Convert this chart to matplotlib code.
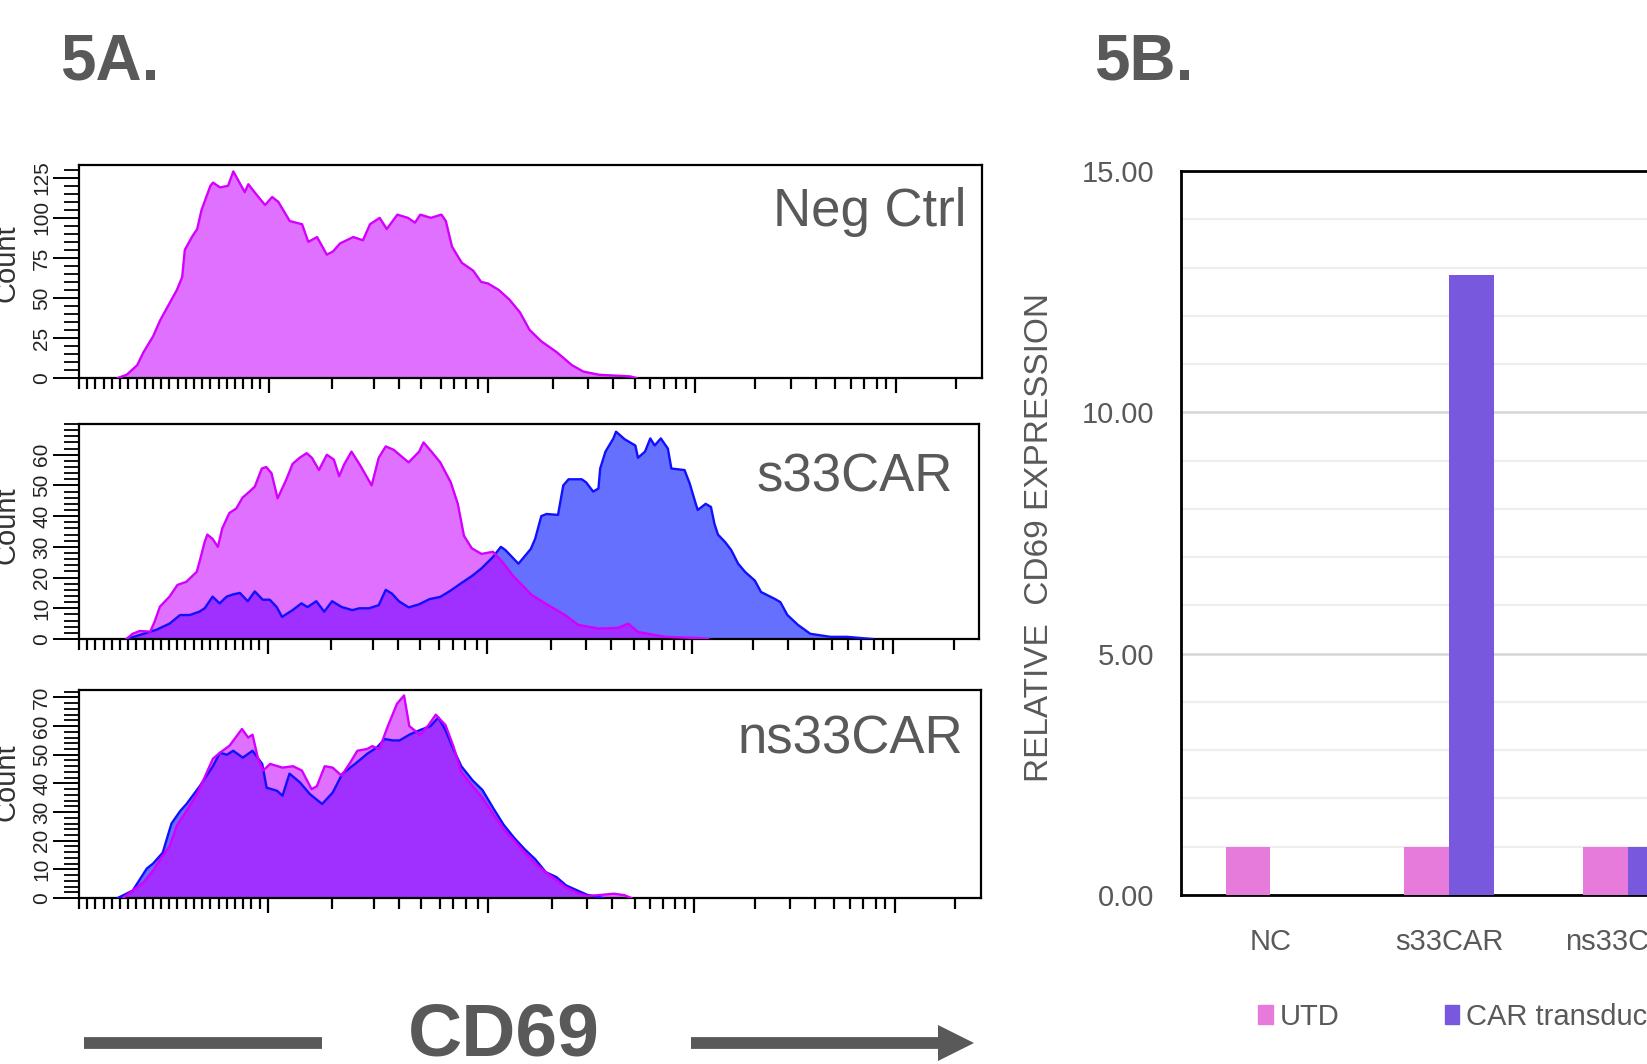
import numpy as np
import matplotlib
matplotlib.use('Agg')
import matplotlib.pyplot as plt
from matplotlib.patches import Polygon, Patch
from matplotlib.ticker import FixedLocator, MultipleLocator

W, H = 1647, 1064
SANS = ['Liberation Sans', 'DejaVu Sans']
GREY = '#595959'

# ---- 5A: CD69 histograms, (display channel, count) ----
neg_ch = [44, 54, 66, 73, 84, 92, 103, 111, 117, 120, 128, 134, 139, 149, 152, 160, 169, 175, 180, 188,
          192, 202, 211, 219, 226, 239, 253, 260, 270, 281, 288, 296, 311, 322, 330, 341, 349, 361, 373, 381,
          387, 399, 411, 416, 423, 434, 447, 456, 464, 476, 488, 500, 511, 524, 542, 559, 572, 590, 625, 632]
neg_cnt = [0, 2, 8, 16, 26, 36, 47, 55, 63, 80, 88, 93, 105, 120, 122, 119, 120, 129, 124, 116,
           121, 114, 108, 113, 110, 98, 96, 85, 88, 77, 79, 84, 88, 86, 96, 100, 93, 102, 100, 97,
           102, 100, 102, 98, 82, 72, 67, 60, 59, 55, 49, 41, 30, 23, 16, 8, 4, 2, 1, 0]

s33_utd_ch = [54, 61, 69, 81, 86, 92, 103, 112, 122, 134, 137, 143, 146, 152, 158, 163, 171, 179, 186, 194,
              200, 208, 213, 219, 226, 236, 243, 251, 259, 265, 273, 282, 290, 296, 302, 310, 319, 327, 333, 341,
              349, 358, 375, 387, 392, 401, 411, 423, 431, 438, 447, 458, 471, 482, 494, 506, 515, 534, 553, 568,
              591, 613, 625, 636, 667, 704, 716]
s33_utd_cnt = [0, 1.7, 2.6, 2.4, 5.6, 10.5, 13.8, 17.6, 18.6, 21.9, 25, 31.6, 34, 32.6, 30, 36, 41, 42.5, 46, 48,
               49.6, 55.5, 56, 54, 45.8, 52, 57, 59, 60.5, 59, 55, 60, 58.4, 53, 57, 61, 57, 53, 50, 59,
               62.7, 61.6, 57.5, 61, 64, 61, 57.5, 51, 44, 33.6, 29.5, 27.7, 28.4, 25, 20.5, 17, 14.3, 11, 7.8, 4.6,
               3.4, 3.6, 5, 2.3, 0.7, 0.3, 0]
s33_car_ch = [54, 69, 88, 103, 115, 126, 137, 143, 152, 160, 168, 175, 183, 192, 200, 209, 217, 225, 231, 243,
              253, 260, 270, 279, 288, 299, 311, 319, 330, 341, 349, 356, 364, 375, 387, 399, 411, 423, 434, 447,
              458, 471, 480, 485, 500, 514, 519, 526, 532, 545, 551, 557, 572, 577, 585, 591, 593, 599, 608, 611,
              621, 633, 636, 644, 650, 655, 662, 670, 674, 689, 695, 701, 704, 713, 719, 723, 727, 735, 742, 750,
              758, 769, 776, 792, 798, 806, 818, 832, 855, 874, 894, 903]
s33_car_cnt = [0, 1.3, 3, 5, 7.8, 7.8, 8.9, 10, 13.8, 11.6, 13.8, 14.5, 15, 12.3, 15.5, 12.8, 12.8, 10.4, 7.2, 9.4,
               11.6, 10.4, 12.3, 8.9, 12.3, 10.4, 9.4, 10, 10, 11, 16, 14.8, 12.3, 10.3, 11.3, 13, 13.7, 15.8, 18, 20.5,
               23, 26.7, 30, 29, 24.5, 29.3, 32.6, 40, 40.7, 40.4, 50, 52, 52, 51, 48, 49, 55.5, 61, 65.3, 67.5,
               65, 63, 59, 61, 65.3, 63, 65.3, 62, 55.5, 55, 50.5, 44.7, 42, 44, 43, 37.5, 34, 31.6, 29, 24.5,
               21.8, 19, 15.3, 13, 12, 7.8, 4.6, 1.7, 0.7, 0.7, 0.2, 0]

ns33_utd_ch = [50, 61, 73, 84, 95, 103, 111, 122, 134, 141, 152, 160, 171, 185, 192, 197, 203, 209, 217, 231,
               243, 253, 264, 270, 279, 288, 298, 307, 316, 327, 333, 341, 350, 361, 369, 375, 387, 397, 405, 411,
               416, 425, 434, 447, 458, 471, 482, 494, 506, 518, 530, 542, 553, 566, 577, 590, 607, 619, 627]
ns33_utd_cnt = [0, 2.6, 5.4, 9.5, 14.7, 18.2, 25.2, 30.4, 36.3, 41, 48.6, 50.7, 53.2, 59, 56, 57, 49, 44.5, 46.8, 45.5,
                46, 44.5, 38, 39, 46, 45.5, 42.7, 46.8, 51.4, 52, 53, 52, 59.5, 67.8, 70.7, 60, 57, 60.4, 64, 62,
                60.4, 53, 44, 39, 35, 29, 24, 20, 15.8, 12, 9, 6.2, 3.7, 1.8, 0.7, 1, 1.5, 1, 0]
ns33_car_ch = [44, 61, 77, 84, 95, 105, 115, 122, 137, 152, 160, 168, 175, 186, 197, 208, 213, 225, 231, 239,
               251, 262, 276, 288, 299, 315, 327, 338, 347, 356, 364, 375, 387, 399, 408, 416, 425, 434, 447, 458,
               471, 482, 494, 506, 518, 530, 542, 553, 566, 577, 595]
ns33_car_cnt = [0, 2.6, 10.3, 12, 15.8, 26, 30.4, 32.8, 39, 46, 50.7, 50, 51.4, 49, 51.4, 46.8, 38.5, 37.4, 35.7, 43.4,
                40.3, 36.3, 32.8, 36.8, 43.4, 47.2, 50.3, 52.5, 55.5, 55, 55, 57, 58.6, 60, 63, 58.6, 52, 46, 41, 37.7,
                31, 25.6, 21, 17, 13.5, 9, 7.3, 4.4, 2.6, 1.1, 0]

panel_names = ['Neg Ctrl', 's33CAR', 'ns33CAR']
count_ticks = [[0, 25, 50, 75, 100, 125], [0, 10, 20, 30, 40, 50, 60], [0, 10, 20, 30, 40, 50, 60, 70]]

# ---- 5B: relative CD69 expression ----
groups = ['NC', 's33CAR', 'ns33CAR']
utd = [1.0, 1.0, 1.0]
car = [0.0, 12.85, 1.0]
series_names = ['UTD', 'CAR transduced']

# colours
PINK, BLUE, PURPLE = '#E070FF', '#6670FF', '#A030FF'
PINK_EDGE, BLUE_EDGE = '#D400FF', '#1010FF'
BAR_UTD, BAR_CAR = '#E67BDC', '#7858DC'


def rect(l, t, r, b):
    return [l / W, 1 - b / H, (r - l) / W, (b - t) / H]


fig = plt.figure(figsize=(W / 100, H / 100), dpi=100)

panel_px = [(79, 165, 982, 378), (79, 424, 979, 639), (79, 690, 981, 898)]
ymaxes = [133, 70, 72.6]
yminor = [5, 2, 2]
data = [(neg_ch, neg_cnt, None, None),
        (s33_utd_ch, s33_utd_cnt, s33_car_ch, s33_car_cnt),
        (ns33_utd_ch, ns33_utd_cnt, ns33_car_ch, ns33_car_cnt)]

# flow axis ticks (display channels)
long_ticks = [215, 464, 698, 926]
short_ticks = list(np.linspace(0, 205, 23)) + [287, 335, 363, 388, 410, 425, 439, 453,
               537, 577, 605, 631, 648, 663, 677, 688, 767, 807, 836, 857, 875, 890, 905, 915, 995]

for i, ax_px in enumerate(panel_px):
    ax = fig.add_axes(rect(*ax_px))
    uch, ucnt, cch, ccnt = data[i]
    pink = ax.fill_between(uch, ucnt, color=PINK, lw=0, zorder=1)
    if cch is not None:
        ax.fill_between(cch, ccnt, color=BLUE, lw=0, zorder=1)
        over = ax.fill_between(cch, ccnt, color=PURPLE, lw=0, zorder=2)
        over.set_clip_path(pink.get_paths()[0], ax.transData)
        ax.plot(cch, ccnt, color=BLUE_EDGE, lw=1.7, zorder=3)
    ax.plot(uch, ucnt, color=PINK_EDGE, lw=1.7, zorder=4)

    ax.set_xlim(0, 1024)
    ax.set_ylim(0, ymaxes[i])
    ax.xaxis.set_major_locator(FixedLocator(long_ticks))
    ax.xaxis.set_minor_locator(FixedLocator(short_ticks))
    ax.tick_params(axis='x', which='major', length=10.5, width=1.6, labelbottom=False)
    ax.tick_params(axis='x', which='minor', length=8, width=1.6)
    ax.set_yticks(count_ticks[i])
    ax.set_yticklabels([str(v) for v in count_ticks[i]], rotation=90, va='center',
                       fontsize=15, family=SANS, color='#222222')
    ax.yaxis.set_minor_locator(MultipleLocator(yminor[i]))
    ax.tick_params(axis='y', which='major', length=19, width=1.4, pad=1)
    ax.tick_params(axis='y', which='minor', length=11, width=1.3)
    for s in ax.spines.values():
        s.set_linewidth(1.6)

# ---- bar chart ----
bx = fig.add_axes(rect(1181, 171, 1717, 895))
x = np.arange(len(groups))
bx.bar(x - 0.125, utd, 0.25, color=BAR_UTD, label=series_names[0], zorder=3)
bx.bar(x + 0.125, car, 0.25, color=BAR_CAR, label=series_names[1], zorder=3)
bx.set_xlim(-0.5, 2.5)
bx.set_ylim(0, 15)
bx.set_yticks([0, 5, 10, 15])
bx.set_yticklabels(['%.2f' % v for v in [0, 5, 10, 15]], fontsize=21, family=SANS, color=GREY)
bx.yaxis.set_minor_locator(MultipleLocator(1))
bx.set_xticks(x)
bx.set_xticklabels(groups, fontsize=21, family=SANS, color=GREY)
bx.tick_params(which='both', length=0)
bx.tick_params(axis='y', pad=19)
bx.tick_params(axis='x', pad=24)
bx.grid(axis='y', which='major', color='#D6D6D6', lw=1.8, zorder=0)
bx.grid(axis='y', which='minor', color='#EEEEEE', lw=1.6, zorder=0)
bx.set_axisbelow(True)
bx.spines['right'].set_visible(False)
for k in ['left', 'bottom', 'top']:
    bx.spines[k].set_linewidth(2.0)
bx.legend(handles=[Patch(color=BAR_UTD, label=series_names[0]), Patch(color=BAR_CAR, label=series_names[1])],
          loc='center left', bbox_to_anchor=(1258 / W, 1 - 1017 / H), bbox_transform=fig.transFigure,
          ncol=2, frameon=False, handlelength=0.5, handleheight=0.6, handletextpad=0.25,
          columnspacing=3.6, borderpad=0, borderaxespad=0,
          prop={'family': SANS, 'size': 21}, labelcolor=GREY)

# ---- annotation layer in pixel coordinates ----
ov = fig.add_axes([0, 0, 1, 1])
ov.set_xlim(0, W)
ov.set_ylim(H, 0)
ov.axis('off')
ov.patch.set_alpha(0)

ov.text(60, 79, '5A.', fontsize=46, fontweight='bold', color=GREY, family=SANS, va='baseline')
ov.text(1094, 79, '5B.', fontsize=46, fontweight='bold', color=GREY, family=SANS, va='baseline')

label_pos = [(966, 226), (953, 492), (963, 754)]
for (lx, ly), name in zip(label_pos, panel_names):
    ov.text(lx, ly, name, ha='right', va='baseline', fontsize=38, color=GREY, family=SANS)

for yc in [263, 525, 782]:
    ov.text(15, yc, 'Count', rotation=90, rotation_mode='anchor', ha='center', va='baseline',
            fontsize=21, color='#333333', family=SANS)

ov.text(1040, 538, 'RELATIVE  CD69 EXPRESSION', rotation=90, ha='center', va='center',
        fontsize=24, color=GREY, family=SANS)

ov.text(504, 1055, 'CD69', ha='center', va='baseline', fontsize=54, fontweight='bold',
        color=GREY, family=SANS)
ov.plot([84, 322], [1043, 1043], color=GREY, lw=8.5, solid_capstyle='butt')
ov.plot([691, 942], [1043, 1043], color=GREY, lw=8.5, solid_capstyle='butt')
ov.add_patch(Polygon([(938, 1025), (974, 1043), (938, 1061)], closed=True, color=GREY, lw=0))

fig.savefig('out.png', dpi=100)
